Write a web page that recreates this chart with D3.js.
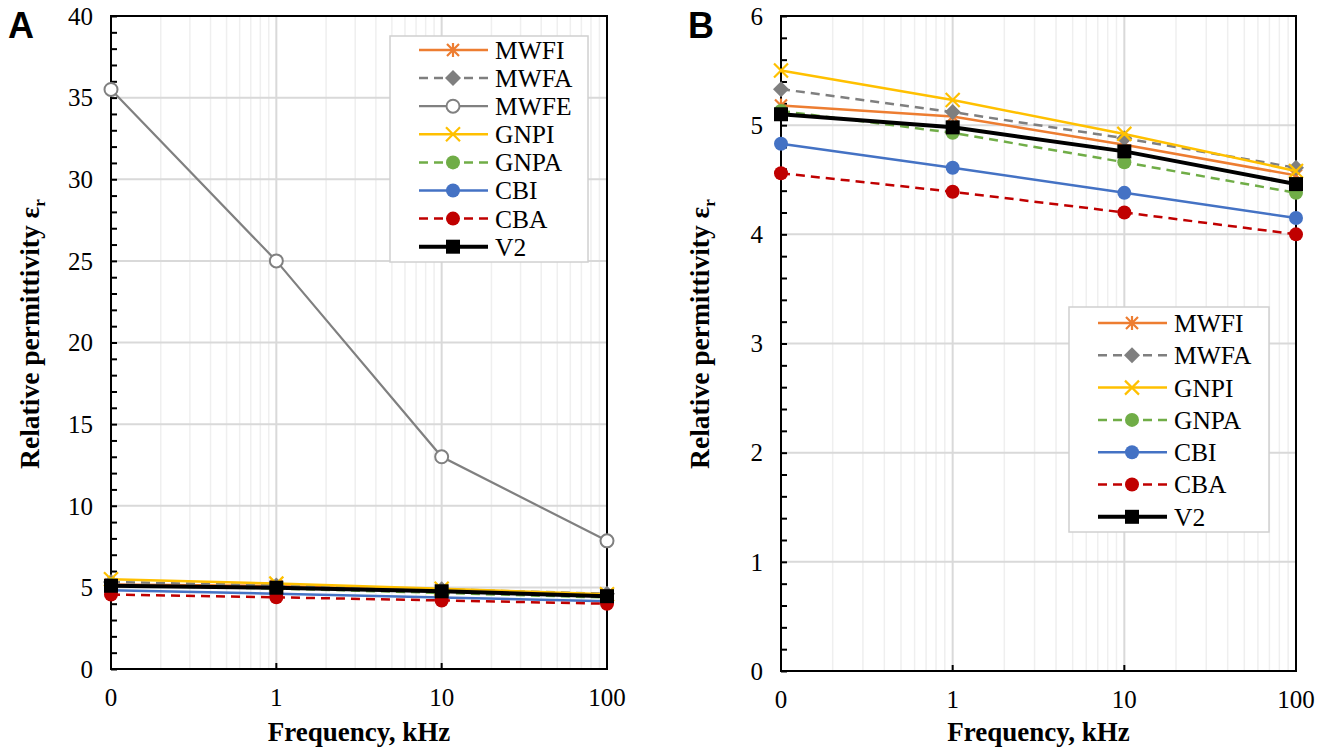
<!DOCTYPE html>
<html>
<head>
<meta charset="utf-8">
<script src="https://cdn.jsdelivr.net/npm/d3@7"></script>
<style>
  body { margin: 0; background: #fff; }
  svg { display: block; }
</style>
</head>
<body>
<div id="chart"></div>
<script>
// frequencies (kHz) - the "0" tick is really 0.1 on a log axis
var freqs = [0.1, 1, 10, 100];
var freqLabels = ["0", "1", "10", "100"];

var names = ["MWFI", "MWFA", "MWFE", "GNPI", "GNPA", "CBI", "CBA", "V2"];
var MWFI = [5.18, 5.08, 4.82, 4.54];
var MWFA = [5.33, 5.12, 4.88, 4.61];
var MWFE = [35.5, 25.0, 13.0, 7.85];
var GNPI = [5.50, 5.23, 4.92, 4.58];
var GNPA = [5.13, 4.93, 4.66, 4.38];
var CBI  = [4.83, 4.61, 4.38, 4.15];
var CBA  = [4.56, 4.39, 4.20, 4.00];
var V2   = [5.10, 4.98, 4.76, 4.46];

var yTicksA = [0, 5, 10, 15, 20, 25, 30, 35, 40];
var yTicksB = [0, 1, 2, 3, 4, 5, 6];

var styles = {
  MWFI: {color: "#ED7D31", dash: null, marker: "asterisk", w: 2.5},
  MWFA: {color: "#7F7F7F", dash: "9,6", marker: "diamond", w: 2.5},
  MWFE: {color: "#808080", dash: null, marker: "ring", w: 2.2},
  GNPI: {color: "#FFC000", dash: null, marker: "x", w: 2.5},
  GNPA: {color: "#70AD47", dash: "9,6", marker: "circle", w: 2.5},
  CBI:  {color: "#4472C4", dash: null, marker: "circle", w: 2.5},
  CBA:  {color: "#C00000", dash: "9,6", marker: "circle", w: 2.5},
  V2:   {color: "#000000", dash: null, marker: "square", w: 4}
};
var values = {MWFI: MWFI, MWFA: MWFA, MWFE: MWFE, GNPI: GNPI, GNPA: GNPA, CBI: CBI, CBA: CBA, V2: V2};

var svg = d3.select("#chart").append("svg")
  .attr("width", 1327).attr("height", 751);

var serif = "'Liberation Serif', 'Times New Roman', serif";

function drawMarker(g, type, color, cx, cy) {
  if (type === "circle") {
    g.append("circle").attr("cx", cx).attr("cy", cy).attr("r", 7).attr("fill", color);
  } else if (type === "ring") {
    g.append("circle").attr("cx", cx).attr("cy", cy).attr("r", 6.5)
      .attr("fill", "#fff").attr("stroke", color).attr("stroke-width", 2);
  } else if (type === "square") {
    g.append("rect").attr("x", cx - 7).attr("y", cy - 7).attr("width", 14).attr("height", 14).attr("fill", color);
  } else if (type === "diamond") {
    g.append("path").attr("d", `M${cx},${cy - 8}L${cx + 8},${cy}L${cx},${cy + 8}L${cx - 8},${cy}Z`).attr("fill", color);
  } else if (type === "x") {
    g.append("path").attr("d", `M${cx - 7},${cy - 7}L${cx + 7},${cy + 7}M${cx - 7},${cy + 7}L${cx + 7},${cy - 7}`)
      .attr("stroke", color).attr("stroke-width", 2.2);
  } else if (type === "asterisk") {
    g.append("path").attr("d", `M${cx - 6},${cy - 6}L${cx + 6},${cy + 6}M${cx - 6},${cy + 6}L${cx + 6},${cy - 6}M${cx},${cy - 7}L${cx},${cy + 7}`)
      .attr("stroke", color).attr("stroke-width", 2.2);
  }
}

function panel(opt) {
  var x = d3.scaleLog().domain([0.1, 100]).range([opt.left, opt.right]);
  var y = d3.scaleLinear().domain([0, opt.ymax]).range([opt.bottom, opt.top]);
  var g = svg.append("g");

  // minor vertical gridlines
  var minors = [];
  [0.1, 1, 10].forEach(function(d) { for (var k = 2; k <= 9; k++) minors.push(d * k); });
  g.append("g").selectAll("line").data(minors).join("line")
    .attr("x1", d => x(d)).attr("x2", d => x(d))
    .attr("y1", opt.top).attr("y2", opt.bottom)
    .attr("stroke", "#efefef").attr("stroke-width", 1.5);

  // major gridlines
  g.append("g").selectAll("line").data([1, 10]).join("line")
    .attr("x1", d => x(d)).attr("x2", d => x(d))
    .attr("y1", opt.top).attr("y2", opt.bottom)
    .attr("stroke", "#d9d9d9").attr("stroke-width", 2);
  g.append("g").selectAll("line").data(opt.yticks.slice(1, -1)).join("line")
    .attr("x1", opt.left).attr("x2", opt.right)
    .attr("y1", d => y(d)).attr("y2", d => y(d))
    .attr("stroke", "#d9d9d9").attr("stroke-width", 2);

  // axes
  var yAxis = d3.axisRight(y).tickValues(d3.range(0, opt.ymax + 1e-9, opt.minor))
    .tickSize(6).tickFormat("");
  g.append("g").attr("transform", `translate(${opt.left},0)`).call(yAxis)
    .call(a => a.selectAll("line").attr("stroke", "#000").attr("stroke-width", 2))
    .call(a => a.select(".domain").remove());

  g.append("g").selectAll("line").data([1, 10]).join("line")
    .attr("x1", d => x(d)).attr("x2", d => x(d))
    .attr("y1", opt.bottom).attr("y2", opt.bottom - 6)
    .attr("stroke", "#000").attr("stroke-width", 2);

  g.append("rect").attr("x", opt.left).attr("y", opt.top)
    .attr("width", opt.right - opt.left).attr("height", opt.bottom - opt.top)
    .attr("fill", "none").attr("stroke", "#000").attr("stroke-width", 2);

  g.append("g").selectAll("text").data(opt.yticks).join("text")
    .attr("x", opt.left - 18).attr("y", d => y(d)).attr("dy", "0.35em")
    .attr("text-anchor", "end").attr("font-family", serif).attr("font-size", 25)
    .text(d => d);

  g.append("g").selectAll("text").data(freqs).join("text")
    .attr("x", d => x(d)).attr("y", opt.bottom + 37)
    .attr("text-anchor", "middle").attr("font-family", serif).attr("font-size", 25)
    .text((d, i) => freqLabels[i]);

  // series
  opt.series.forEach(function(n) {
    var s = styles[n], vals = values[n];
    var line = d3.line().x((d, i) => x(freqs[i])).y(d => y(d));
    g.append("path").datum(vals).attr("d", line)
      .attr("fill", "none").attr("stroke", s.color).attr("stroke-width", s.w)
      .attr("stroke-dasharray", s.dash);
    var mg = g.append("g");
    vals.forEach((v, i) => drawMarker(mg, s.marker, s.color, x(freqs[i]), y(v)));
  });

  // legend
  var L = opt.legend;
  var lg = g.append("g");
  lg.append("rect").attr("x", L.x).attr("y", L.y).attr("width", L.w).attr("height", L.h)
    .attr("fill", "#fff").attr("stroke", "#d0d0d0").attr("stroke-width", 1.5);
  opt.series.forEach(function(n, i) {
    var s = styles[n], cy = L.row0 + i * L.step;
    lg.append("line").attr("x1", L.x + 29).attr("x2", L.x + 98).attr("y1", cy).attr("y2", cy)
      .attr("stroke", s.color).attr("stroke-width", s.w).attr("stroke-dasharray", s.dash);
    drawMarker(lg, s.marker, s.color, L.x + 63, cy);
    lg.append("text").attr("x", L.x + 105).attr("y", cy).attr("dy", "0.35em")
      .attr("font-family", serif).attr("font-size", 25.5).text(n);
  });

  // axis titles
  g.append("text").attr("x", (opt.left + opt.right) / 2).attr("y", 741)
    .attr("text-anchor", "middle").attr("font-family", serif).attr("font-weight", "bold")
    .attr("font-size", 27).text("Frequency, kHz");
  var yt = g.append("text").attr("transform", `translate(${opt.ylabX},334) rotate(-90)`)
    .attr("text-anchor", "middle").attr("font-family", serif).attr("font-weight", "bold")
    .attr("font-size", 27.5);
  yt.append("tspan").text("Relative permittivity ε");
  yt.append("tspan").attr("font-size", 17).attr("dy", 6).text("r");

  g.append("text").attr("x", opt.tagX).attr("y", 38)
    .attr("font-family", "'Liberation Sans', Arial, sans-serif").attr("font-weight", "bold")
    .attr("font-size", 36).text(opt.tag);
}

panel({
  left: 111, right: 607, top: 16, bottom: 669, ymax: 40, minor: 1,
  yticks: yTicksA, series: names, ylabX: 39, tagX: 8, tag: "A",
  legend: {x: 390, y: 36, w: 198, h: 226, row0: 50, step: 28.1}
});

panel({
  left: 781, right: 1296, top: 16, bottom: 671, ymax: 6, minor: 0.2,
  yticks: yTicksB, series: names.filter(n => n !== "MWFE"), ylabX: 709, tagX: 688, tag: "B",
  legend: {x: 1069, y: 307, w: 200, h: 225, row0: 323, step: 32.3}
});
</script>
</body>
</html>
